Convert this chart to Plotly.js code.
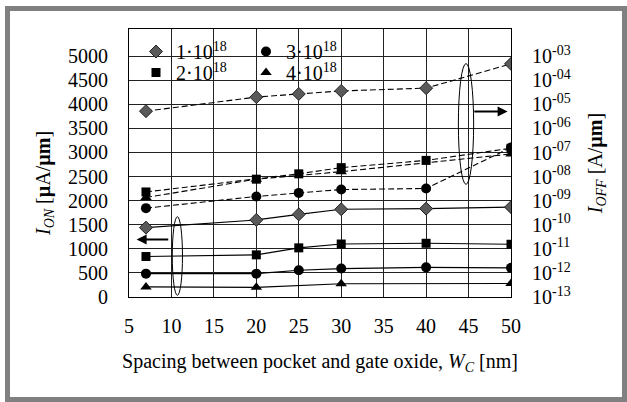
<!DOCTYPE html>
<html><head><meta charset="utf-8">
<script src="https://cdn.plot.ly/plotly-3.0.1.min.js"></script>
<style>html,body{margin:0;padding:0;background:#fff}#chart{width:627px;height:402px}</style>
</head><body><div id="chart"></div>
<script>
// x positions (spacing W_C, nm)
const spacingNm = [7, 20, 25, 30, 40, 50];
const spacingNm4 = [7, 20, 30, 50];
// legend labels (pocket doping)
const dopingLabels = ['1·10<sup>18</sup>', '2·10<sup>18</sup>', '3·10<sup>18</sup>', '4·10<sup>18</sup>'];
// I_ON [uA/um] (solid lines, left axis)
const ionD1 = [1440, 1600, 1715, 1820, 1835, 1865];
const ionD2 = [840, 875, 1020, 1100, 1115, 1095];
const ionD3 = [485, 485, 555, 590, 615, 605];
const ionD4 = [210, 200, 275, 280];
// I_OFF [A/um] (dashed lines, right log axis)
const ioffD1 = [5.2e-6, 2.0e-5, 2.7e-5, 3.6e-5, 4.7e-5, 4.8e-4];
const ioffD2 = [2.3e-9, 7.8e-9, 1.3e-8, 2.35e-8, 4.7e-8, 1.5e-7];
const ioffD3 = [4.9e-10, 1.5e-9, 2.1e-9, 2.9e-9, 3.2e-9, 1.6e-7];
const ioffD4 = [1.35e-9, 7.8e-9, 1.6e-8, 8.7e-8];
// tick labels
const xTicks = [5, 10, 15, 20, 25, 30, 35, 40, 45, 50];
const leftTicks = [0, 500, 1000, 1500, 2000, 2500, 3000, 3500, 4000, 4500, 5000];
const rightTickVals = [1e-13, 1e-12, 1e-11, 1e-10, 1e-9, 1e-8, 1e-7, 1e-6, 1e-5, 1e-4, 1e-3];
const rightTickText = ['10<sup>-13</sup>', '10<sup>-12</sup>', '10<sup>-11</sup>', '10<sup>-10</sup>', '10<sup>-09</sup>', '10<sup>-08</sup>', '10<sup>-07</sup>', '10<sup>-06</sup>', '10<sup>-05</sup>', '10<sup>-04</sup>', '10<sup>-03</sup>'];

const FONT = '"Liberation Serif", "Times New Roman", Times, serif';
const markers = [
  {symbol: 'diamond', size: 10, color: '#5a5a5a', line: {color: '#222', width: 1}},
  {symbol: 'square', size: 9, color: '#000', line: {width: 0}},
  {symbol: 'circle', size: 10, color: '#000', line: {width: 0}},
  {symbol: 'triangle-up', size: 10, color: '#000', line: {width: 0}}
];
const xs = [spacingNm, spacingNm, spacingNm, spacingNm4];
const ions = [ionD1, ionD2, ionD3, ionD4];
const ioffs = [ioffD1, ioffD2, ioffD3, ioffD4];
const legendOf = ['legend', 'legend2', 'legend', 'legend2'];

const traces = [];
for (let i = 0; i < 4; i++) {
  traces.push({x: xs[i], y: ioffs[i], yaxis: 'y2', mode: 'lines+markers', showlegend: false,
    line: {color: '#000', width: 1.1, dash: '6px,3px'}, marker: markers[i], hoverinfo: 'skip'});
  traces.push({x: xs[i], y: ions[i], mode: 'lines', showlegend: false,
    line: {color: '#000', width: 1.1}, hoverinfo: 'skip'});
  traces.push({x: xs[i], y: ions[i], mode: 'markers', name: dopingLabels[i], legend: legendOf[i],
    marker: markers[i]});
}

const L = 129, R = 116, T = 29, B = 105, W = 627, H = 402;
const pw = W - L - R, ph = H - T - B;
const px = X => (X - L) / pw, py = Y => (H - B - Y) / ph;

const layout = {
  width: W, height: H, margin: {l: L, r: R, t: T, b: B},
  paper_bgcolor: '#fff', plot_bgcolor: '#fff',
  font: {family: FONT, size: 20, color: '#000'},
  showlegend: true,
  xaxis: {range: [5, 50], tickvals: xTicks, ticks: '', ticklabelstandoff: 11,
    showgrid: true, gridcolor: '#222', gridwidth: 1, zeroline: false,
    showline: true, mirror: true, linecolor: '#000', linewidth: 1.2,
    tickfont: {family: FONT, size: 20},
    title: {text: 'Spacing between pocket and gate oxide, <i>W</i><sub><i>C</i></sub> [nm]', font: {family: FONT, size: 20}, standoff: 17}},
  yaxis: {range: [0, 5563], tickvals: leftTicks, ticks: '', ticklabelstandoff: 16,
    showgrid: true, gridcolor: '#222', gridwidth: 1, zeroline: false,
    showline: true, mirror: true, linecolor: '#000', linewidth: 1.2, tickfont: {family: FONT, size: 20}},
  yaxis2: {type: 'log', overlaying: 'y', side: 'right', range: [-13, -1.872],
    tickvals: rightTickVals, ticktext: rightTickText, ticks: '', ticklabelstandoff: 20,
    showgrid: false, zeroline: false, showline: false, tickfont: {family: FONT, size: 20},
    title: {text: '<i>I</i><sub><i>OFF</i></sub> [A/<b>µm</b>]', font: {family: FONT, size: 20}, standoff: 18}},
  legend: {orientation: 'h', x: px(136), y: py(32), xanchor: 'left', yanchor: 'top',
    bgcolor: 'rgba(0,0,0,0)', borderwidth: 0, entrywidth: 65, entrywidthmode: 'pixels',
    font: {family: FONT, size: 20}, itemclick: false},
  legend2: {orientation: 'h', x: px(136), y: py(53), xanchor: 'left', yanchor: 'top',
    bgcolor: 'rgba(0,0,0,0)', borderwidth: 0, entrywidth: 65, entrywidthmode: 'pixels',
    font: {family: FONT, size: 20}, itemclick: false},
  shapes: [
    // white legend box hiding gridlines
    {type: 'rect', xref: 'paper', yref: 'paper', x0: px(147), x1: px(340.5), y0: py(79), y1: 1,
      fillcolor: '#fff', line: {width: 0}, layer: 'between'},
    // ellipses grouping the curves
    {type: 'circle', xref: 'x', yref: 'y', x0: 10.1, x1: 11.3, y0: 35, y1: 1666,
      line: {color: '#000', width: 1}},
    {type: 'circle', xref: 'x', yref: 'y', x0: 43.8, x1: 45.6, y0: 2338, y1: 4845,
      line: {color: '#000', width: 1}},
    // outer grey frame
    {type: 'rect', xref: 'paper', yref: 'paper', x0: px(7.5), x1: px(624.5), y0: py(399.5), y1: py(8.5),
      line: {color: '#808080', width: 5}, fillcolor: 'rgba(0,0,0,0)'}
  ],
  annotations: [
    {xref: 'paper', yref: 'paper', x: px(44), y: py(184), xanchor: 'center', yanchor: 'middle',
      textangle: -90, showarrow: false, font: {family: FONT, size: 20},
      text: '<i>I</i><sub><i>ON</i></sub> [<b>µ</b>A/<b>µm</b>]'},
    {xref: 'x', yref: 'y', axref: 'x', ayref: 'y', x: 5.9, y: 1194, ax: 9.8, ay: 1194,
      text: '', showarrow: true, arrowhead: 2, arrowsize: 1, arrowwidth: 2, arrowcolor: '#000', standoff: 0},
    {xref: 'x', yref: 'y', axref: 'x', ayref: 'y', x: 49.6, y: 3849, ax: 45.5, ay: 3849,
      text: '', showarrow: true, arrowhead: 2, arrowsize: 1, arrowwidth: 2, arrowcolor: '#000', standoff: 0}
  ]
};

Plotly.newPlot('chart', traces, layout, {displayModeBar: false});
</script>
</body></html>
